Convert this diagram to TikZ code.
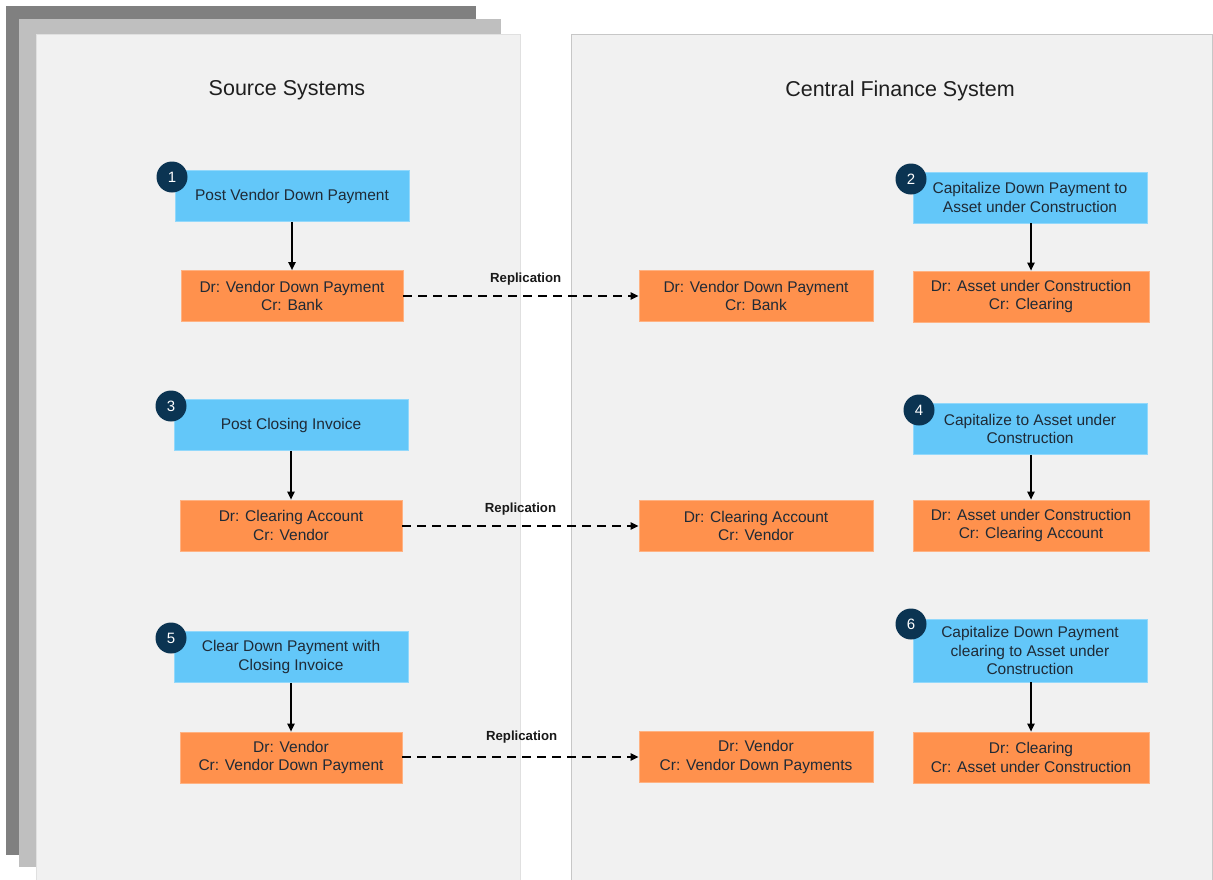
\documentclass[tikz,border=0pt]{standalone}
\usepackage{fontspec}
\setmainfont{Liberation Sans}
\usetikzlibrary{arrows.meta}
\definecolor{panelbg}{HTML}{F1F1F1}
\definecolor{stackdark}{HTML}{808080}
\definecolor{stacklight}{HTML}{BFBFBF}
\definecolor{stepblue}{HTML}{63C7F9}
\definecolor{postorange}{HTML}{FF914D}
\definecolor{badge}{HTML}{0B3452}
\definecolor{txt}{HTML}{1F2A36}
\tikzset{
  action/.style={fill=stepblue, draw=stepblue!70!white, line width=0.6pt, minimum width=234pt, minimum height=51pt,
    align=center, text=txt, font=\fontsize{15.5}{18.8}\selectfont, inner sep=0pt},
  posting/.style={fill=postorange, draw=postorange!70!white, line width=0.6pt, minimum width=222pt, minimum height=51pt,
    align=center, text=txt, font=\fontsize{15.5}{18.8}\selectfont, inner sep=0pt},
  badgecircle/.style={circle, fill=badge, minimum size=31pt, inner sep=0pt, text=white, font=\fontsize{15}{16}\selectfont},
  flow/.style={line width=1.8pt, -{Triangle[length=8pt,width=7pt]}},
  replicate/.style={line width=2pt, dash pattern=on 9pt off 6pt, -{Triangle[length=8pt,width=7pt]}},
  replabel/.style={font=\bfseries\fontsize{13.2}{15}\selectfont, text=black!90},
  title/.style={font=\fontsize{21.5}{25}\selectfont, text=black!88}
}
\begin{document}
\begin{tikzpicture}[x=1pt,y=-1pt]
\useasboundingbox (0,0) rectangle (1213,879);
\fill[white] (0,0) rectangle (1213,879);

% stacked source-system sheets
\fill[stackdark] (6,6) rectangle (476,855);
\fill[stacklight] (19,19) rectangle (501,867);
\filldraw[fill=panelbg, draw=black!12, line width=0.8pt] (36,34) rectangle (520,880);
% central finance panel
\filldraw[fill=panelbg, draw=black!22, line width=0.8pt] (571,34) rectangle (1212,880);

\node[title] (srctitle) at (287,90.5) {Source Systems};
\node[title] (cfstitle) at (900,90.5) {Central Finance System};

% ---- step 1 / 2 ----
\node[action] (s1) at (292,196) {Post Vendor Down Payment};
\node[posting] (p1) at (292,296) {Dr: Vendor Down Payment\\Cr: Bank};
\node[posting, minimum width=234pt] (r1) at (756,296) {Dr: Vendor Down Payment\\Cr: Bank};
\node[action] (s2) at (1030,197.5) {Capitalize Down Payment to\\Asset under Construction};
\node[posting, minimum width=236pt] (q2) at (1031,296.5) {Dr: Asset under Construction\\Cr: Clearing};
\node[badgecircle] (b1) at (172,177) {1};
\node[badgecircle] (b2) at (911,179) {2};
\draw[flow] (s1) -- (p1);
\draw[flow] (s2.south -| q2) -- (q2);
\draw[replicate] (p1) -- (r1) node[replabel, pos=0.52, above=6pt] (l1) {Replication};

% ---- step 3 / 4 ----
\node[action] (s3) at (291,425) {Post Closing Invoice};
\node[posting] (p3) at (291,525.5) {Dr: Clearing Account\\Cr: Vendor};
\node[posting, minimum width=234pt] (r3) at (756,526) {Dr: Clearing Account\\Cr: Vendor};
\node[action] (s4) at (1030,429) {Capitalize to Asset under\\Construction};
\node[posting, minimum width=236pt] (q4) at (1031,525.5) {Dr: Asset under Construction\\Cr: Clearing Account};
\node[badgecircle] (b3) at (171,406) {3};
\node[badgecircle] (b4) at (919,410) {4};
\draw[flow] (s3) -- (p3);
\draw[flow] (s4.south -| q4) -- (q4);
\draw[replicate] (p3.east |- r3) -- (r3) node[replabel, pos=0.5, above=6pt] (l3) {Replication};

% ---- step 5 / 6 ----
\node[action] (s5) at (291,657) {Clear Down Payment with\\Closing Invoice};
\node[posting] (p5) at (291,757.5) {Dr: Vendor\\Cr: Vendor Down Payment};
\node[posting, minimum width=234pt] (r5) at (756,757) {Dr: Vendor\\Cr: Vendor Down Payments};
\node[action, minimum height=63pt] (s6) at (1030,650.5) {Capitalize Down Payment\\clearing to Asset under\\Construction};
\node[posting, minimum width=236pt] (q6) at (1031,757.5) {Dr: Clearing\\Cr: Asset under Construction};
\node[badgecircle] (b5) at (171,638) {5};
\node[badgecircle] (b6) at (911,624) {6};
\draw[flow] (s5) -- (p5);
\draw[flow] (s6.south -| q6) -- (q6);
\draw[replicate] (p5.east |- r5) -- (r5) node[replabel, pos=0.505, above=9pt] (l5) {Replication};
\end{tikzpicture}
\end{document}
